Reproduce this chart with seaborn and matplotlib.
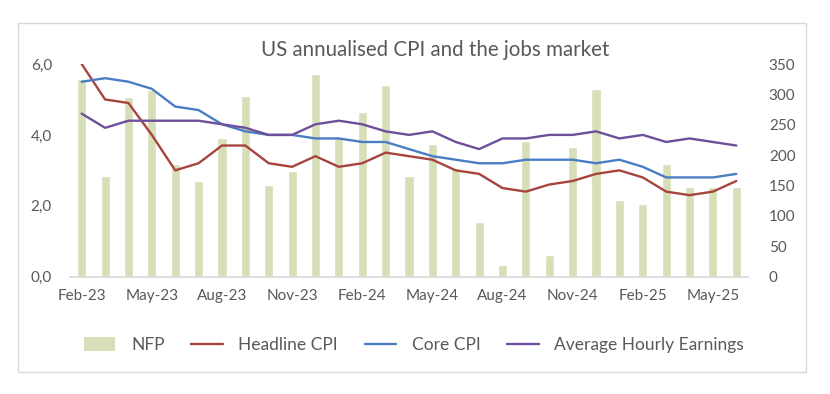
import numpy as np
import pandas as pd
import matplotlib
matplotlib.use("Agg")
import matplotlib.pyplot as plt
import seaborn as sns
from matplotlib.patches import Rectangle, Patch
from matplotlib.lines import Line2D

months = ["Feb-23", "Mar-23", "Apr-23", "May-23", "Jun-23", "Jul-23", "Aug-23", "Sep-23",
          "Oct-23", "Nov-23", "Dec-23", "Jan-24", "Feb-24", "Mar-24", "Apr-24", "May-24",
          "Jun-24", "Jul-24", "Aug-24", "Sep-24", "Oct-24", "Nov-24", "Dec-24", "Jan-25",
          "Feb-25", "Mar-25", "Apr-25", "May-25", "Jun-25"]
nfp = [326, 166, 296, 308, 186, 158, 228, 297, 151, 174, 334, 228, 271, 315, 166,
       218, 179, 90, 20, 224, 36, 214, 309, 126, 119, 186, 148, 147, 147]
headline_cpi = [6.0, 5.0, 4.9, 4.0, 3.0, 3.2, 3.7, 3.7, 3.2, 3.1, 3.4, 3.1, 3.2, 3.5, 3.4,
                3.3, 3.0, 2.9, 2.5, 2.4, 2.6, 2.7, 2.9, 3.0, 2.8, 2.4, 2.3, 2.4, 2.7]
core_cpi = [5.5, 5.6, 5.5, 5.3, 4.8, 4.7, 4.3, 4.1, 4.0, 4.0, 3.9, 3.9, 3.8, 3.8, 3.6,
            3.4, 3.3, 3.2, 3.2, 3.3, 3.3, 3.3, 3.2, 3.3, 3.1, 2.8, 2.8, 2.8, 2.9]
ahe = [4.6, 4.2, 4.4, 4.4, 4.4, 4.4, 4.3, 4.2, 4.0, 4.0, 4.3, 4.4, 4.3, 4.1, 4.0,
       4.1, 3.8, 3.6, 3.9, 3.9, 4.0, 4.0, 4.1, 3.9, 4.0, 3.8, 3.9, 3.8, 3.7]
tick_labels = months[::3]

sns.set_theme(style="white")
plt.rcParams['font.family'] = ['Lato', 'DejaVu Sans']

df = pd.DataFrame({"idx": np.arange(len(months)), "month": months, "NFP": nfp,
                   "Headline CPI": headline_cpi, "Core CPI": core_cpi,
                   "Average Hourly Earnings": ahe})

c_bar = "#D6DFB8"
c_red = "#A8443E"
c_blue = "#4A7DC3"
c_purple = "#6E4F9A"
c_text = "#595959"

fig = plt.figure(figsize=(8.3, 3.94), dpi=100)
ax = fig.add_axes([70/830, (394-276.7)/394, 678/830, 212.7/394])
ax2 = ax.twinx()

sns.barplot(data=df, x="idx", y="NFP", ax=ax2, color=c_bar, width=0.39,
            saturation=1, native_scale=True)
for col, c in [("Headline CPI", c_red), ("Core CPI", c_blue), ("Average Hourly Earnings", c_purple)]:
    sns.lineplot(data=df, x="idx", y=col, ax=ax, color=c, linewidth=1.7)

ax.set_zorder(ax2.get_zorder() + 1)
ax.patch.set_visible(False)

ax.set_xlim(-0.5, len(months) - 0.5)
ax.set_ylim(0, 6)
ax2.set_ylim(0, 350)
ax.set_yticks([0, 2, 4, 6])
ax.set_yticklabels(["0,0", "2,0", "4,0", "6,0"])
ax2.set_yticks(range(0, 351, 50))
ax.set_xticks(range(0, len(months), 3))
ax.set_xticklabels(tick_labels)
for a in (ax, ax2):
    a.set_xlabel("")
    a.set_ylabel("")
    for s in a.spines.values():
        s.set_visible(False)
    a.tick_params(length=0, labelsize=11, colors=c_text)
ax.spines["bottom"].set_visible(True)
ax.spines["bottom"].set_color("#D9D9D9")
ax.tick_params(axis="y", pad=13)
ax.tick_params(axis="x", pad=9)
ax2.tick_params(axis="y", pad=15)

fig.text(435/830, 1 - 50/394, "US annualised CPI and the jobs market", ha="center",
         va="center", fontsize=14.8, color=c_text)

handles = [Patch(facecolor=c_bar, edgecolor="none"),
           Line2D([], [], color=c_red, lw=1.7),
           Line2D([], [], color=c_blue, lw=1.7),
           Line2D([], [], color=c_purple, lw=1.7)]
labels = ["NFP", "Headline CPI", "Core CPI", "Average Hourly Earnings"]
fig.legend(handles, labels, loc="center", bbox_to_anchor=(414/830, 1 - 345/394), ncol=4,
           frameon=False, fontsize=12.5, labelcolor=c_text, handlelength=1.8,
           handleheight=0.9, columnspacing=1.55, handletextpad=0.9)

fig.patches.append(Rectangle((18/830, (394-372)/394), 788/830, 349/394,
                             transform=fig.transFigure, fill=False,
                             edgecolor="#D9D9D9", linewidth=1))

fig.savefig("out.png", dpi=100)
